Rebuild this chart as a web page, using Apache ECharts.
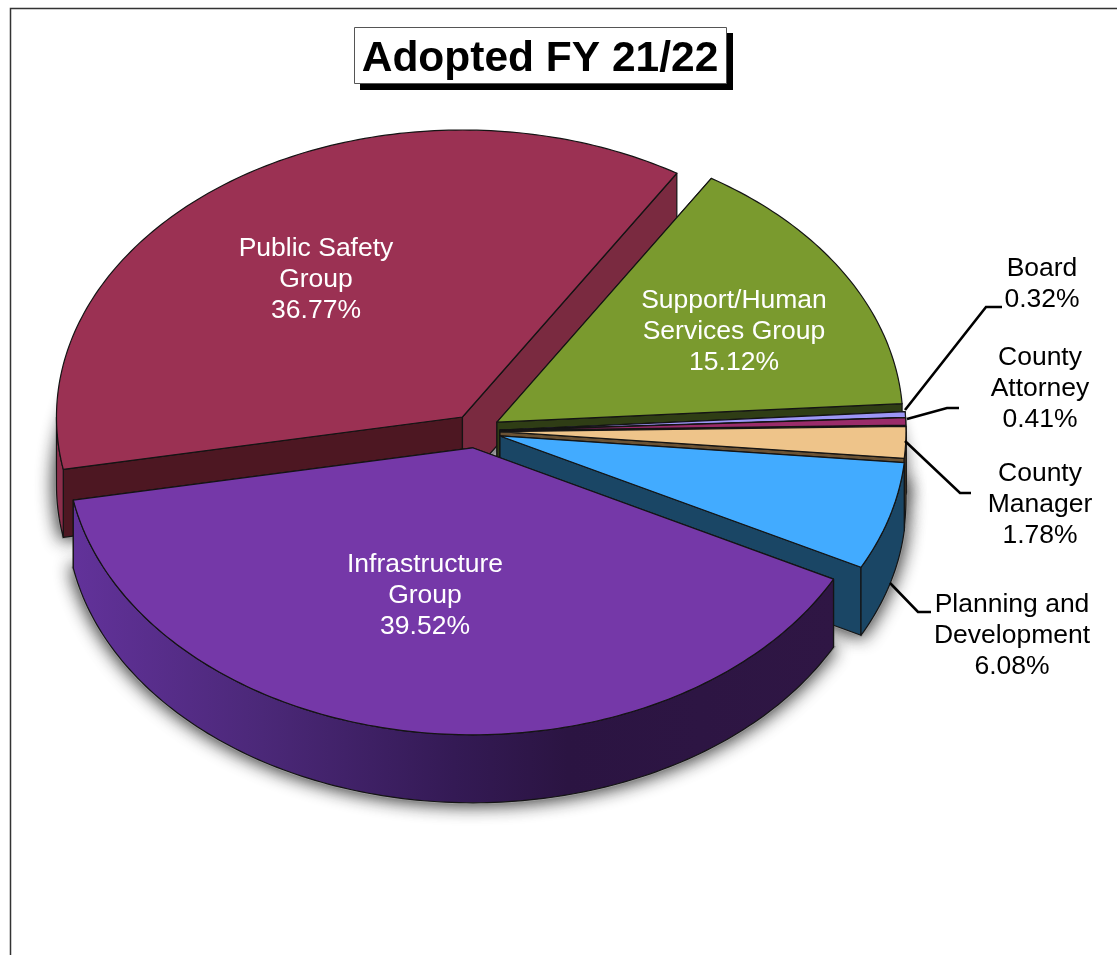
<!DOCTYPE html>
<html>
<head>
<meta charset="utf-8">
<style>html,body{margin:0;padding:0;background:#fff}#c{width:1117px;height:955px}</style>
<script src="https://cdn.jsdelivr.net/npm/echarts@6/dist/echarts.min.js"></script>
</head>
<body>
<div id="c"></div>
<script>
// ---- data ----
var categories = ['Public Safety\nGroup', 'Support/Human\nServices Group', 'Board', 'County\nAttorney', 'County\nManager', 'Planning and\nDevelopment', 'Infrastructure\nGroup'];
var shares = [36.77, 15.12, 0.32, 0.41, 1.78, 6.08, 39.52];
// ---- styling, per slice ----
var topColors = ['#9B3153', '#7A9A2E', '#9C96F6', '#9A2C6A', '#EEC48A', '#42ABFF', '#7538A8'];
var endFaceColors = ['#7A2A40', '#2F3D15', '#3F3C66', '#4A1533', '#6B5335', '#1A4665', '#2B1340'];
var startFaceColors = ['#4D1722', '#2F3D15', '#3F3C66', '#4A1533', '#6B5335', '#1A4665', '#2B1340'];
var wallColors = ['#8C2E4B', '#5A7322', '#6F6AB5', '#6F1F4C', '#6B5335', '#1A4665', null];
var explode = [24, 24.4, 24, 24, 24, 25, 24];
var labelColors = ['#fff', '#fff', '#000', '#000', '#000', '#000', '#fff'];
var labelCentres = [[316, 280], [734, 332], [1042, 284], [1040, 389], [1040, 505], [1012, 636], [425, 596]];
// ---- pie geometry ----
var CX = 476, CY = 431, RX = 406, RY = 287, DEPTH = 68, START = -190.5;
var RAD = Math.PI / 180;
var spans = [], acc = START;
var total = shares.reduce(function (a, b) { return a + b; }, 0);
shares.forEach(function (v) { var s = v / total * 360; spans.push([acc, acc + s]); acc += s; });

function apex(i) {
  var mid = (spans[i][0] + spans[i][1]) / 2 * RAD;
  return [CX + explode[i] * Math.cos(mid), CY + explode[i] * Math.sin(mid) * RY / RX];
}
function rim(a, t, dy) { return [a[0] + RX * Math.cos(t * RAD), a[1] + RY * Math.sin(t * RAD) + (dy || 0)]; }
function arc(a, t0, t1, dy) {
  var out = [], n = Math.max(2, Math.ceil(Math.abs(t1 - t0)));
  for (var k = 0; k <= n; k++) out.push(rim(a, t0 + (t1 - t0) * k / n, dy));
  return out;
}
function edge() { return { stroke: '#141414', lineWidth: 1.2, lineJoin: 'round' }; }
function poly(points, fill) {
  return { type: 'polygon', shape: { points: points }, style: Object.assign({ fill: fill }, edge()) };
}
function renderShadow(params) {
  var i = params.dataIndex, a = apex(i), s = spans[i];
  var pts = [[a[0], a[1] + DEPTH]].concat(arc(a, s[0], s[1], DEPTH));
  return { type: 'polygon', shape: { points: pts },
    style: { fill: '#999', stroke: '#999', lineWidth: 3, shadowBlur: 18, shadowColor: 'rgba(0,0,0,0.9)' } };
}
function renderSlice(params) {
  var i = params.dataIndex, a = apex(i), s = spans[i], kids = [];
  var a2 = [a[0], a[1] + DEPTH];
  var p0 = rim(a, s[0]), p1 = rim(a, s[1]);
  // the two cut faces
  kids.push(poly([a, p0, rim(a, s[0], DEPTH), a2], startFaceColors[i]));
  kids.push(poly([a, p1, rim(a, s[1], DEPTH), a2], endFaceColors[i]));
  // outer wall, only the part facing the viewer (0..180 degrees of the ellipse)
  [[s[0], s[1]], [s[0] + 360, s[1] + 360]].forEach(function (r) {
    var lo = Math.max(r[0], 0), hi = Math.min(r[1], 180);
    if (hi <= lo) return;
    var fill = wallColors[i] || new echarts.graphic.LinearGradient(0, 0, 1, 0, [
      { offset: 0, color: '#62329A' }, { offset: 0.25, color: '#4B2878' },
      { offset: 0.5, color: '#341A55' }, { offset: 0.65, color: '#2B1442' }, { offset: 1, color: '#2F1644' }
    ]);
    kids.push(poly(arc(a, lo, hi).concat(arc(a, hi, lo, DEPTH)), fill));
  });
  // top surface
  kids.push(poly([a].concat(arc(a, s[0], s[1])), topColors[i]));
  return { type: 'group', children: kids };
}
function renderLabel(params) {
  var i = params.dataIndex, c = labelCentres[i];
  return { type: 'text', x: c[0], y: c[1], style: {
    text: categories[i] + '\n' + shares[i].toFixed(2) + '%',
    font: '26.5px "Liberation Sans", Arial, sans-serif', lineHeight: 31,
    fill: labelColors[i], align: 'center', verticalAlign: 'middle' } };
}
var leaders = [
  [[905, 410], [986, 307], [1002, 307]],
  [[907, 419], [947, 408], [959, 408]],
  [[905, 441], [960, 493], [971, 493]],
  [[890, 583], [918, 612], [931, 612]]
];
var seriesData = shares.map(function (v, i) { return [i, v]; });
var chart = echarts.init(document.getElementById('c'), null, { renderer: 'canvas', width: 1117, height: 955 });
var graphics = [
  { type: 'polyline', shape: { points: [[10.5, 1000], [10.5, 8.5], [1200, 8.5]] }, style: { stroke: '#333', lineWidth: 1.5, fill: null }, silent: true },
  { type: 'rect', shape: { x: 360, y: 33, width: 373, height: 57 }, style: { fill: '#000' }, silent: true },
  { type: 'rect', shape: { x: 354.5, y: 27.5, width: 372, height: 56 }, style: { fill: '#fff', stroke: '#555', lineWidth: 1 }, silent: true },
  { type: 'text', x: 540, y: 59, style: { text: 'Adopted FY 21/22', font: 'bold 42.5px "Liberation Sans", Arial, sans-serif', fill: '#000', align: 'center', verticalAlign: 'middle' }, silent: true }
].concat(leaders.map(function (p) {
  return { type: 'polyline', z: 5, shape: { points: p }, style: { stroke: '#000', lineWidth: 2.6, fill: null }, silent: true };
}));
chart.setOption({
  animation: false,
  backgroundColor: '#fff',
  graphic: graphics,
  series: [
    { type: 'custom', coordinateSystem: 'none', silent: true, clip: false, data: seriesData, renderItem: renderShadow },
    { type: 'custom', coordinateSystem: 'none', silent: true, clip: false, data: seriesData, renderItem: renderSlice },
    { type: 'custom', coordinateSystem: 'none', silent: true, clip: false, data: seriesData, renderItem: renderLabel }
  ]
});
</script>
</body>
</html>
